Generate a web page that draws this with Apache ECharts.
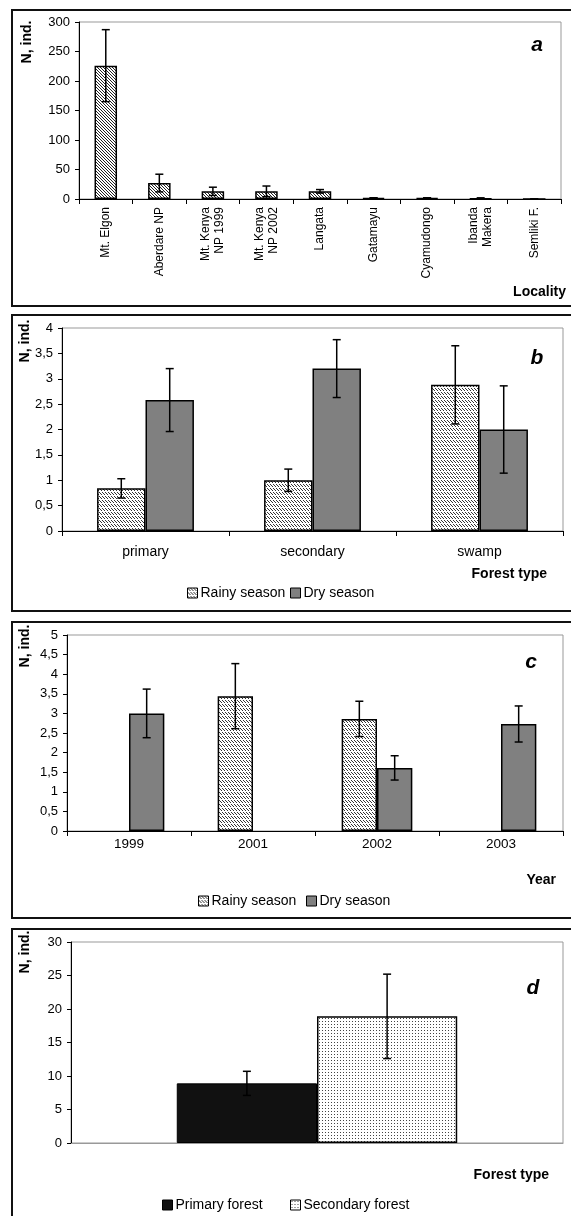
<!DOCTYPE html>
<html><head><meta charset="utf-8">
<script src="https://cdn.jsdelivr.net/npm/echarts@6/dist/echarts.min.js"></script>
<style>html,body{margin:0;padding:0;background:#fff}#c{width:571px;height:1216px}</style>
</head><body><div id="c"></div>
<script>
const FONT = 'Liberation Sans, Arial, Helvetica, sans-serif';

// ---- Panel a: abundance by locality ----
const localities = ['Mt. Elgon', 'Aberdare NP', 'Mt. Kenya\nNP 1999', 'Mt. Kenya\nNP 2002', 'Langata', 'Gatamayu', 'Cyamudongo', 'Ibanda\nMakera', 'Semliki F.'];
const localityMeans = [226, 27, 13, 13, 13, 2, 2, 1, 0];
const localityErrors = [61, 15, 7, 9, 3, 0, 0, 1, 0];
const ticksA = [0, 50, 100, 150, 200, 250, 300];

// ---- Panel b: forest type x season ----
const forestTypes = ['primary', 'secondary', 'swamp'];
const rainyB = [0.84, 1.0, 2.88];
const rainyBErr = [0.19, 0.22, 0.77];
const dryB = [2.58, 3.2, 2.0];
const dryBErr = [0.62, 0.57, 0.86];
const ticksB = [0, 0.5, 1, 1.5, 2, 2.5, 3, 3.5, 4];

// ---- Panel c: year x season ----
const years = ['1999', '2001', '2002', '2003'];
const rainyC = [null, 3.44, 2.86, null];
const rainyCErr = [null, 0.83, 0.45, null];
const dryC = [3.0, null, 1.61, 2.73];
const dryCErr = [0.62, null, 0.31, 0.46];
const ticksC = [0, 0.5, 1, 1.5, 2, 2.5, 3, 3.5, 4, 4.5, 5];

// ---- Panel d: primary vs secondary forest ----
const forestD = [''];
const primaryD = [8.9];
const primaryDErr = [1.8];
const secondaryD = [18.9];
const secondaryDErr = [6.3];
const ticksD = [0, 5, 10, 15, 20, 25, 30];

// ---- fill patterns ----
function makePattern(w, h, pixels, ink) {
  const cv = document.createElement('canvas');
  cv.width = w; cv.height = h;
  const ctx = cv.getContext('2d');
  ctx.fillStyle = '#fff'; ctx.fillRect(0, 0, w, h);
  ctx.fillStyle = ink;
  pixels.forEach(p => ctx.fillRect(p[0], p[1], 1, 1));
  return { image: cv, repeat: 'repeat' };
}
const hatch = makePattern(3, 3, [[0,0],[1,1],[2,2]], '#222');
const wavy = makePattern(3, 4, [[0,0],[1,1],[2,2]], '#333');
const dots = makePattern(3, 3, [[1,1]], '#444');
const DRY = '#808080';

const comma = v => String(v).replace('.', ',');

function yAxis(gi, ticks, fmt) {
  return {
    type: 'value', gridIndex: gi, min: ticks[0], max: ticks[ticks.length - 1],
    interval: ticks[1] - ticks[0],
    splitLine: { show: false },
    axisLine: { show: true, lineStyle: { color: '#000', width: 1 } },
    axisTick: { show: true, length: 4, lineStyle: { color: '#000' } },
    axisLabel: { color: '#000', fontSize: 13, fontFamily: FONT, margin: 9, formatter: fmt || (v => String(v)) }
  };
}

function errSeries(xi, means, errs, gap, slot, nSlots) {
  const data = [];
  means.forEach((m, i) => { if (m != null) data.push([i, m, errs[i]]); });
  return {
    type: 'custom', name: 'err' + xi + '_' + slot, xAxisIndex: xi, yAxisIndex: xi, z: 10, silent: true,
    encode: { x: 0, y: 1 }, data: data,
    renderItem: function (params, api) {
      const band = api.size([1, 0])[0];
      const w = band * (1 - gap) / nSlots;
      const off = (slot - (nSlots - 1) / 2) * w;
      const i = api.value(0), m = api.value(1), e = api.value(2);
      const cx = api.coord([i, m])[0] + off;
      const yt = api.coord([i, m + e])[1];
      const yb = api.coord([i, m - e])[1];
      const st = { stroke: '#000', lineWidth: 1.5 };
      return { type: 'group', children: [
        { type: 'line', shape: { x1: cx, y1: yt, x2: cx, y2: yb }, style: st },
        { type: 'line', shape: { x1: cx - 4, y1: yt, x2: cx + 4, y2: yt }, style: st },
        { type: 'line', shape: { x1: cx - 4, y1: yb, x2: cx + 4, y2: yb }, style: st }
      ] };
    }
  };
}

function catAxis(gi, data, extra) {
  return Object.assign({
    type: 'category', gridIndex: gi, data: data,
    axisLine: { show: true, lineStyle: { color: '#000', width: 1 } },
    axisTick: { show: true, length: 5, lineStyle: { color: '#000' } },
    axisLabel: { color: '#000', fontSize: 13.5, fontFamily: FONT, interval: 0 }
  }, extra || {});
}

const gridStyle = { show: true, borderColor: '#999', borderWidth: 1, backgroundColor: 'transparent' };

function ttext(x, y, text, font, align, rot) {
  return { type: 'text', x: x, y: y, rotation: rot || 0, z: 50,
    style: { text: text, font: font, fill: '#000', textAlign: align || 'center', textVerticalAlign: 'middle' } };
}
function border(y, h) {
  return { type: 'rect', z: 40, shape: { x: 12, y: y, width: 620, height: h },
    style: { fill: 'none', stroke: '#111', lineWidth: 2 } };
}

const legendBase = { orient: 'horizontal', padding: 0, itemWidth: 10, itemHeight: 10, selectedMode: false, icon: 'rect',
  itemStyle: { borderColor: '#000', borderWidth: 1 },
  textStyle: { fontSize: 14, fontFamily: FONT, color: '#000', padding: [0, 0, 0, -2] } };
function legend(left, top, name) {
  return Object.assign({}, legendBase, { left: left, top: top, data: [name] });
}

const option = {
  animation: false,
  backgroundColor: '#fff',
  grid: [
    Object.assign({ left: 79, top: 22, width: 482, height: 177 }, gridStyle),
    Object.assign({ left: 62, top: 328, width: 501, height: 203 }, gridStyle),
    Object.assign({ left: 67, top: 635, width: 496, height: 196 }, gridStyle),
    Object.assign({ left: 71, top: 942, width: 492, height: 201 }, gridStyle)
  ],
  xAxis: [
    catAxis(0, localities, { axisLabel: { color: '#000', fontSize: 12, fontFamily: FONT, interval: 0, rotate: 90, margin: 8, lineHeight: 14 } }),
    catAxis(1, forestTypes, { axisLabel: { color: '#000', fontSize: 14, fontFamily: FONT, interval: 0, margin: 14 } }),
    catAxis(2, years, { axisLabel: { color: '#000', fontSize: 13.5, fontFamily: FONT, interval: 0, margin: 6 } }),
    catAxis(3, forestD, { axisLine: { show: true, lineStyle: { color: '#999' } }, axisTick: { show: false }, axisLabel: { show: false } })
  ],
  yAxis: [
    yAxis(0, ticksA),
    yAxis(1, ticksB, comma),
    yAxis(2, ticksC, comma),
    yAxis(3, ticksD)
  ],
  legend: [
    legend(187, 586, 'Rainy season'),
    legend(290, 586, 'Dry season'),
    legend(198, 894, 'Rainy season'),
    legend(306, 894, 'Dry season'),
    legend(162, 1198, 'Primary forest'),
    legend(290, 1198, 'Secondary forest')
  ],
  series: [
    { type: 'bar', name: 'Locality', xAxisIndex: 0, yAxisIndex: 0, data: localityMeans, barCategoryGap: '58%',
      itemStyle: { color: hatch, borderColor: '#000', borderWidth: 1.5 } },
    errSeries(0, localityMeans, localityErrors, 0.58, 0, 1),

    { type: 'bar', name: 'Rainy season', xAxisIndex: 1, yAxisIndex: 1, data: rainyB, barGap: '0%', barCategoryGap: '42%',
      itemStyle: { color: wavy, borderColor: '#000', borderWidth: 1.5 } },
    { type: 'bar', name: 'Dry season', xAxisIndex: 1, yAxisIndex: 1, data: dryB, barGap: '0%', barCategoryGap: '42%',
      itemStyle: { color: DRY, borderColor: '#000', borderWidth: 1.5 } },
    errSeries(1, rainyB, rainyBErr, 0.42, 0, 2),
    errSeries(1, dryB, dryBErr, 0.42, 1, 2),

    { type: 'bar', name: 'Rainy season', xAxisIndex: 2, yAxisIndex: 2, data: rainyC, barGap: '0%', barCategoryGap: '43%',
      itemStyle: { color: wavy, borderColor: '#000', borderWidth: 1.5 } },
    { type: 'bar', name: 'Dry season', xAxisIndex: 2, yAxisIndex: 2, data: dryC, barGap: '0%', barCategoryGap: '43%',
      itemStyle: { color: DRY, borderColor: '#000', borderWidth: 1.5 } },
    errSeries(2, rainyC, rainyCErr, 0.43, 0, 2),
    errSeries(2, dryC, dryCErr, 0.43, 1, 2),

    { type: 'bar', name: 'Primary forest', xAxisIndex: 3, yAxisIndex: 3, data: primaryD, barGap: '0%', barCategoryGap: '43%',
      itemStyle: { color: '#111', borderColor: '#000', borderWidth: 1 } },
    { type: 'bar', name: 'Secondary forest', xAxisIndex: 3, yAxisIndex: 3, data: secondaryD, barGap: '0%', barCategoryGap: '43%',
      itemStyle: { color: dots, borderColor: '#000', borderWidth: 1.5 } },
    errSeries(3, primaryD, primaryDErr, 0.43, 0, 2),
    errSeries(3, secondaryD, secondaryDErr, 0.43, 1, 2)
  ],
  graphic: [
    border(10, 296), border(315, 296), border(622, 296), border(929, 400),
    ttext(27, 42, 'N, ind.', 'bold 14px ' + FONT, 'center', Math.PI / 2),
    ttext(25, 341, 'N, ind.', 'bold 14px ' + FONT, 'center', Math.PI / 2),
    ttext(25, 646, 'N, ind.', 'bold 14px ' + FONT, 'center', Math.PI / 2),
    ttext(25, 952, 'N, ind.', 'bold 14px ' + FONT, 'center', Math.PI / 2),
    ttext(537, 45, 'a', 'italic bold 21px ' + FONT),
    ttext(537, 358, 'b', 'italic bold 21px ' + FONT),
    ttext(531, 662, 'c', 'italic bold 21px ' + FONT),
    ttext(533, 988, 'd', 'italic bold 21px ' + FONT),
    ttext(566, 292, 'Locality', 'bold 14px ' + FONT, 'right'),
    ttext(547, 574, 'Forest type', 'bold 14px ' + FONT, 'right'),
    ttext(556, 880, 'Year', 'bold 14px ' + FONT, 'right'),
    ttext(549, 1175, 'Forest type', 'bold 14px ' + FONT, 'right')
  ]
};

const chart = echarts.init(document.getElementById('c'), null, { renderer: 'canvas' });
chart.setOption(option);
</script>
</body></html>
